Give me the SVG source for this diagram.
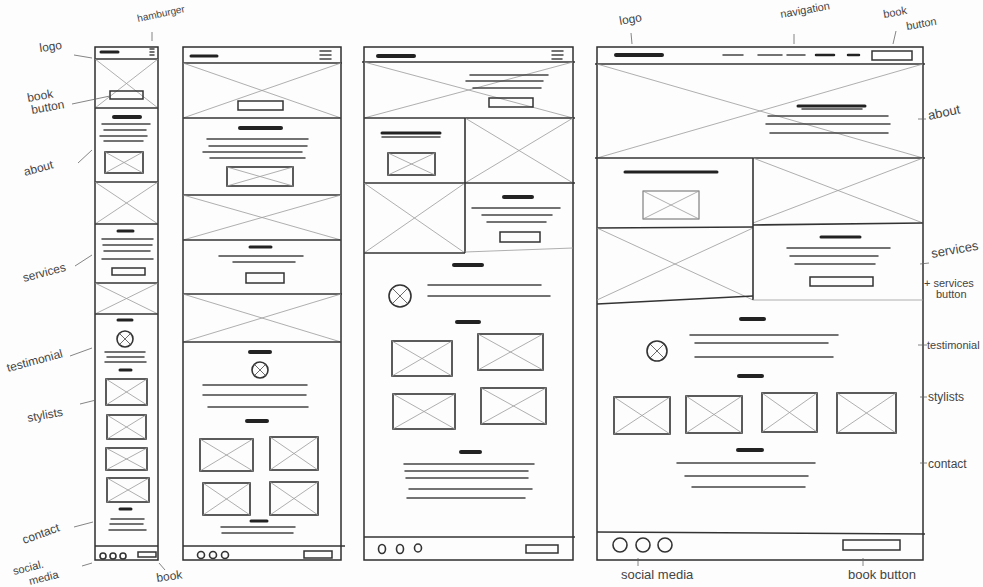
<svg xmlns="http://www.w3.org/2000/svg" width="983" height="587" viewBox="0 0 983 587">
<style>
.f{fill:none;stroke:#2e2e2e;stroke-width:1.5}
.s{fill:none;stroke:#333;stroke-width:1.6}
.x{fill:none;stroke:#9a9a9a;stroke-width:0.8}
.h{stroke:#222;stroke-width:4;stroke-linecap:round}
.t{stroke:#444;stroke-width:1.5;stroke-linecap:round}
.b{fill:none;stroke:#333;stroke-width:1.5}
.i{fill:none;stroke:#333;stroke-width:1.6}
.ld{stroke:#666;stroke-width:0.8}
.lab{font-family:"Liberation Sans",Arial,sans-serif;font-size:12px;fill:#444;font-weight:300}
</style>
<rect width="983" height="587" fill="#fdfdfd"/>

<g id="mobile">
<rect class="f" x="95" y="47" width="63" height="513"/>
<line class="h" x1="101" y1="52" x2="118" y2="52" style="stroke-width:3"/>
<line class="t" x1="150" y1="49" x2="154" y2="49"/><line class="t" x1="150" y1="52" x2="154" y2="52"/><line class="t" x1="150" y1="55" x2="154" y2="55"/>
<line class="s" x1="95" y1="59" x2="158" y2="59"/>
<path class="x" d="M95 59 L158 108 M158 59 L95 108"/>
<rect class="b" x="110" y="91" width="33" height="8"/>
<line class="s" x1="95" y1="108" x2="158" y2="108"/>
<line class="h" x1="114" y1="117" x2="140" y2="117"/>
<line class="t" x1="102" y1="124" x2="150" y2="124"/><line class="t" x1="104" y1="130" x2="146" y2="130"/><line class="t" x1="100" y1="136" x2="147" y2="136"/><line class="t" x1="104" y1="141" x2="143" y2="141"/>
<rect class="i" x="105" y="152" width="38" height="21"/><path class="x" d="M105 152 L143 173 M143 152 L105 173"/>
<line class="s" x1="95" y1="182" x2="158" y2="182"/>
<path class="x" d="M95 182 L158 224 M158 182 L95 224"/>
<line class="s" x1="95" y1="224" x2="158" y2="224"/>
<line class="h" x1="118" y1="231" x2="133" y2="231" style="stroke-width:3"/>
<line class="t" x1="102" y1="239" x2="153" y2="239"/><line class="t" x1="103" y1="245" x2="152" y2="245"/><line class="t" x1="104" y1="251" x2="150" y2="251"/><line class="t" x1="102" y1="259" x2="153" y2="259"/>
<rect class="b" x="112" y="268" width="33" height="7"/>
<line class="s" x1="95" y1="283" x2="158" y2="283"/>
<path class="x" d="M95 283 L158 314 M158 283 L95 314"/>
<line class="s" x1="95" y1="314" x2="158" y2="314"/>
<line class="h" x1="118" y1="320" x2="132" y2="320" style="stroke-width:3"/>
<circle class="i" cx="125" cy="339" r="8"/><path class="x" d="M119 333 L131 345 M131 333 L119 345" style="stroke:#444"/>
<line class="t" x1="105" y1="352" x2="145" y2="352"/><line class="t" x1="107" y1="357" x2="144" y2="357"/><line class="t" x1="105" y1="362" x2="146" y2="362"/>
<line class="h" x1="120" y1="370" x2="131" y2="370" style="stroke-width:3"/>
<rect class="i" x="106" y="379" width="41" height="26"/><path class="x" d="M106 379 L147 405 M147 379 L106 405"/>
<rect class="i" x="107" y="415" width="39" height="24"/><path class="x" d="M107 415 L146 439 M146 415 L107 439"/>
<rect class="i" x="106" y="448" width="41" height="22"/><path class="x" d="M106 448 L147 470 M147 448 L106 470"/>
<rect class="i" x="107" y="478" width="42" height="24"/><path class="x" d="M107 478 L149 502 M149 478 L107 502"/>
<line class="h" x1="120" y1="509" x2="131" y2="509" style="stroke-width:3"/>
<line class="t" x1="111" y1="519" x2="144" y2="519"/><line class="t" x1="110" y1="524" x2="143" y2="524"/><line class="t" x1="109" y1="530" x2="146" y2="530"/>
<line class="s" x1="95" y1="546" x2="158" y2="546"/>
<circle class="i" cx="103" cy="556" r="3"/><circle class="i" cx="113" cy="556" r="3"/><circle class="i" cx="123" cy="556" r="3"/>
<rect class="b" x="138" y="552" width="18" height="5"/>
</g>

<g id="tablet">
<rect class="f" x="183" y="47" width="158" height="513"/>
<line class="h" x1="191" y1="56" x2="217" y2="56" style="stroke-width:3"/>
<line class="t" x1="320" y1="51" x2="331" y2="51"/><line class="t" x1="320" y1="55" x2="331" y2="55"/><line class="t" x1="320" y1="59" x2="331" y2="59"/>
<line class="s" x1="183" y1="63" x2="342" y2="63"/>
<path class="x" d="M183 63 L341 118 M341 63 L183 118"/>
<rect class="b" x="238" y="101" width="45" height="9"/>
<line class="s" x1="183" y1="118" x2="341" y2="118"/>
<line class="h" x1="240" y1="128" x2="281" y2="128"/>
<line class="t" x1="207" y1="139" x2="308" y2="139"/><line class="t" x1="209" y1="146" x2="307" y2="146"/><line class="t" x1="203" y1="152" x2="302" y2="152"/><line class="t" x1="210" y1="158" x2="305" y2="158"/>
<rect class="i" x="227" y="167" width="66" height="19"/><path class="x" d="M227 167 L293 186 M293 167 L227 186"/>
<line class="s" x1="183" y1="195" x2="341" y2="195"/>
<path class="x" d="M183 195 L341 240 M341 195 L183 240"/>
<line class="s" x1="183" y1="240" x2="341" y2="240"/>
<line class="h" x1="250" y1="247" x2="271" y2="247" style="stroke-width:3"/>
<line class="t" x1="219" y1="256" x2="303" y2="256"/><line class="t" x1="233" y1="262" x2="295" y2="262"/>
<rect class="b" x="246" y="273" width="38" height="10"/>
<line class="s" x1="183" y1="294" x2="342" y2="294"/>
<path class="x" d="M183 294 L341 342 M341 294 L183 342"/>
<line class="s" x1="183" y1="342" x2="341" y2="342"/>
<line class="h" x1="250" y1="352" x2="270" y2="352"/>
<circle class="i" cx="260" cy="370" r="8"/><path class="x" d="M254 364 L266 376 M266 364 L254 376" style="stroke:#444"/>
<line class="t" x1="203" y1="385" x2="307" y2="385"/><line class="t" x1="203" y1="395" x2="306" y2="395"/><line class="t" x1="208" y1="407" x2="308" y2="407"/>
<line class="h" x1="247" y1="421" x2="267" y2="421"/>
<rect class="i" x="200" y="439" width="53" height="32"/><path class="x" d="M200 439 L253 471 M253 439 L200 471"/>
<rect class="i" x="270" y="437" width="48" height="33"/><path class="x" d="M270 437 L318 470 M318 437 L270 470"/>
<rect class="i" x="203" y="483" width="47" height="32"/><path class="x" d="M203 483 L250 515 M250 483 L203 515"/>
<rect class="i" x="270" y="482" width="48" height="33"/><path class="x" d="M270 482 L318 515 M318 482 L270 515"/>
<line class="h" x1="251" y1="521" x2="267" y2="521" style="stroke-width:3"/>
<line class="t" x1="221" y1="527" x2="295" y2="527"/><line class="t" x1="222" y1="533" x2="293" y2="533"/>
<line class="s" x1="183" y1="546" x2="345" y2="546"/>
<circle class="i" cx="201" cy="555" r="3.5"/><circle class="i" cx="213" cy="555" r="3.5"/><circle class="i" cx="225" cy="555" r="3.5"/>
<rect class="b" x="304" y="551" width="28" height="7"/>
</g>

<g id="laptop">
<rect class="f" x="364" y="47" width="209" height="513"/>
<line class="h" x1="378" y1="56" x2="414" y2="56"/>
<line class="t" x1="552" y1="51" x2="563" y2="51"/><line class="t" x1="552" y1="55" x2="563" y2="55"/><line class="t" x1="552" y1="59" x2="562" y2="59"/>
<line class="s" x1="362" y1="62" x2="575" y2="62"/>
<path class="x" d="M364 62 L573 118 M573 62 L364 118"/>
<line class="t" x1="470" y1="75" x2="548" y2="75"/><line class="t" x1="466" y1="81" x2="543" y2="81"/><line class="t" x1="473" y1="88" x2="541" y2="88"/>
<rect class="b" x="489" y="98" width="44" height="9"/>
<line class="s" x1="364" y1="118" x2="575" y2="118"/>
<line class="h" x1="382" y1="133" x2="440" y2="133" style="stroke-width:3"/><line class="t" x1="382" y1="137" x2="440" y2="137"/>
<rect class="i" x="388" y="153" width="47" height="22"/><path class="x" d="M388 153 L435 175 M435 153 L388 175"/>
<path class="x" d="M465 118 L573 183 M573 118 L465 183"/>
<line class="s" x1="364" y1="183" x2="575" y2="183"/>
<path class="x" d="M364 183 L465 253 M465 183 L364 253"/>
<line class="s" x1="465" y1="118" x2="465" y2="253"/>
<line class="s" x1="364" y1="253" x2="465" y2="253"/>
<line class="x" x1="465" y1="252" x2="573" y2="248"/>
<line class="h" x1="504" y1="197" x2="532" y2="197"/>
<line class="t" x1="472" y1="208" x2="560" y2="208"/><line class="t" x1="482" y1="215" x2="552" y2="215"/><line class="t" x1="487" y1="222" x2="546" y2="222"/>
<rect class="b" x="500" y="232" width="40" height="10"/>
<line class="h" x1="454" y1="265" x2="482" y2="265"/>
<circle class="i" cx="400" cy="296" r="11"/><path class="x" d="M393 289 L407 303 M407 289 L393 303" style="stroke:#444"/>
<line class="t" x1="428" y1="285" x2="541" y2="285"/><line class="t" x1="428" y1="296" x2="550" y2="296"/>
<line class="h" x1="457" y1="322" x2="479" y2="322"/>
<rect class="i" x="392" y="341" width="60" height="35"/><path class="x" d="M392 341 L452 376 M452 341 L392 376"/>
<rect class="i" x="478" y="334" width="65" height="36"/><path class="x" d="M478 334 L543 370 M543 334 L478 370"/>
<rect class="i" x="393" y="394" width="62" height="35"/><path class="x" d="M393 394 L455 429 M455 394 L393 429"/>
<rect class="i" x="481" y="388" width="65" height="36"/><path class="x" d="M481 388 L546 424 M546 388 L481 424"/>
<line class="h" x1="461" y1="452" x2="480" y2="452"/>
<line class="t" x1="404" y1="464" x2="534" y2="464"/><line class="t" x1="405" y1="471" x2="528" y2="471"/><line class="t" x1="406" y1="478" x2="528" y2="478"/><line class="t" x1="409" y1="489" x2="532" y2="489"/><line class="t" x1="407" y1="498" x2="525" y2="498"/>
<line class="s" x1="364" y1="537" x2="575" y2="537"/>
<ellipse class="i" cx="382" cy="549" rx="3.5" ry="4.5"/><ellipse class="i" cx="400" cy="549" rx="3.5" ry="4.5"/><ellipse class="i" cx="418" cy="548" rx="3.5" ry="4"/>
<rect class="b" x="526" y="545" width="32" height="8"/>
</g>

<g id="desktop">
<rect class="f" x="597" y="47" width="326" height="513"/>
<line class="h" x1="616" y1="55" x2="662" y2="55"/>
<line class="t" x1="723" y1="55" x2="743" y2="55"/><line class="t" x1="758" y1="55" x2="782" y2="55"/><line class="t" x1="787" y1="55" x2="805" y2="55"/><line class="h" x1="816" y1="55" x2="834" y2="55" style="stroke-width:2.5"/><line class="h" x1="848" y1="55" x2="859" y2="55" style="stroke-width:2.5"/>
<rect class="b" x="872" y="51" width="40" height="9"/>
<line class="s" x1="595" y1="64" x2="925" y2="64"/>
<path class="x" d="M597 64 L923 158 M923 64 L597 158"/>
<line class="h" x1="798" y1="106" x2="865" y2="106" style="stroke-width:3"/><line class="t" x1="802" y1="109" x2="862" y2="109"/>
<line class="t" x1="768" y1="116" x2="888" y2="116"/><line class="t" x1="766" y1="124" x2="890" y2="124"/><line class="t" x1="770" y1="133" x2="888" y2="133"/>
<line class="s" x1="595" y1="158" x2="925" y2="158"/>
<line class="h" x1="625" y1="172" x2="717" y2="172" style="stroke-width:3"/>
<rect class="i" x="643" y="191" width="56" height="28" style="stroke:#666;stroke-width:1"/><path class="x" d="M643 191 L699 219 M699 191 L643 219"/>
<path class="x" d="M753 158 L923 223 M923 158 L753 223"/>
<line class="s" x1="597" y1="228" x2="753" y2="227"/>
<line class="s" x1="753" y1="225" x2="923" y2="223"/>
<path class="x" d="M597 228 L753 300 M753 228 L597 300"/>
<line class="s" x1="753" y1="158" x2="753" y2="300"/>
<line class="s" x1="597" y1="304" x2="753" y2="296"/>
<line class="x" x1="753" y1="300" x2="923" y2="300"/>
<line class="h" x1="821" y1="237" x2="860" y2="237" style="stroke-width:3"/>
<line class="t" x1="787" y1="248" x2="890" y2="248"/><line class="t" x1="790" y1="256" x2="878" y2="256"/><line class="t" x1="795" y1="264" x2="875" y2="264"/>
<rect class="b" x="810" y="277" width="63" height="9"/>
<line class="h" x1="741" y1="319" x2="764" y2="319"/>
<circle class="i" cx="657" cy="351" r="10"/><path class="x" d="M650 344 L664 358 M664 344 L650 358" style="stroke:#444"/>
<line class="t" x1="690" y1="335" x2="838" y2="335"/><line class="t" x1="695" y1="343" x2="828" y2="343"/><line class="t" x1="695" y1="357" x2="833" y2="357"/>
<line class="h" x1="739" y1="376" x2="762" y2="376"/>
<rect class="i" x="614" y="397" width="56" height="37"/><path class="x" d="M614 397 L670 434 M670 397 L614 434"/>
<rect class="i" x="686" y="396" width="56" height="37"/><path class="x" d="M686 396 L742 433 M742 396 L686 433"/>
<rect class="i" x="762" y="393" width="55" height="39"/><path class="x" d="M762 393 L817 432 M817 393 L762 432"/>
<rect class="i" x="837" y="393" width="59" height="40"/><path class="x" d="M837 393 L896 433 M896 393 L837 433"/>
<line class="h" x1="738" y1="450" x2="762" y2="450"/>
<line class="t" x1="677" y1="463" x2="815" y2="463"/><line class="t" x1="685" y1="476" x2="808" y2="476"/><line class="t" x1="692" y1="487" x2="805" y2="487"/>
<line class="s" x1="597" y1="532" x2="925" y2="534"/>
<circle class="i" cx="620" cy="545" r="7"/><circle class="i" cx="643" cy="545" r="7"/><circle class="i" cx="665" cy="545" r="7"/>
<rect class="b" x="843" y="540" width="57" height="10"/>
</g>

<g id="labels">
<line class="ld" x1="74" y1="55" x2="92" y2="58"/>
<text class="lab" x="40" y="52" transform="rotate(-8 40 52)">logo</text>
<line class="ld" x1="152" y1="32" x2="152" y2="41"/>
<text class="lab" x="138" y="22" transform="rotate(-12 138 22)" style="font-size:10px">hamburger</text>
<line class="ld" x1="72" y1="104" x2="110" y2="96"/>
<text class="lab" x="28" y="102" transform="rotate(-10 28 102)">book</text>
<text class="lab" x="32" y="114" transform="rotate(-10 32 114)">button</text>
<line class="ld" x1="78" y1="163" x2="92" y2="150"/>
<text class="lab" x="25" y="176" transform="rotate(-15 25 176)">about</text>
<line class="ld" x1="75" y1="266" x2="92" y2="255"/>
<text class="lab" x="24" y="282" transform="rotate(-15 24 282)">services</text>
<line class="ld" x1="70" y1="356" x2="92" y2="348"/>
<text class="lab" x="8" y="372" transform="rotate(-15 8 372)">testimonial</text>
<line class="ld" x1="80" y1="404" x2="96" y2="400"/>
<text class="lab" x="28" y="422" transform="rotate(-10 28 422)">stylists</text>
<line class="ld" x1="74" y1="527" x2="93" y2="522"/>
<text class="lab" x="24" y="544" transform="rotate(-20 24 544)">contact</text>
<line class="ld" x1="82" y1="566" x2="92" y2="563"/>
<text class="lab" x="14" y="575" transform="rotate(-14 14 575)" style="font-size:11px">social.</text>
<text class="lab" x="30" y="585" transform="rotate(-14 30 585)" style="font-size:11px">media</text>
<line class="ld" x1="159" y1="563" x2="165" y2="570"/>
<text class="lab" x="157" y="582" transform="rotate(-8 157 582)">book</text>

<line class="ld" x1="631" y1="33" x2="632" y2="44"/>
<text class="lab" x="620" y="25" transform="rotate(-10 620 25)">logo</text>
<line class="ld" x1="794" y1="34" x2="794" y2="44"/>
<text class="lab" x="781" y="18" transform="rotate(-10 781 18)" style="font-size:11px">navigation</text>
<line class="ld" x1="896" y1="31" x2="893" y2="44"/>
<text class="lab" x="884" y="18" transform="rotate(-10 884 18)" style="font-size:11px">book</text>
<text class="lab" x="907" y="30" transform="rotate(-10 907 30)" style="font-size:11px">button</text>
<line class="ld" x1="918" y1="119" x2="926" y2="119"/>
<text class="lab" x="929" y="120" transform="rotate(-12 929 120)" style="font-size:13px">about</text>
<line class="ld" x1="920" y1="264" x2="929" y2="263"/>
<text class="lab" x="932" y="258" transform="rotate(-10 932 258)" style="font-size:13px">services</text>
<text class="lab" x="924" y="287" style="font-size:11px">+ services</text>
<text class="lab" x="936" y="298" style="font-size:11px">button</text>
<line class="ld" x1="918" y1="345" x2="927" y2="345"/>
<text class="lab" x="927" y="349" style="font-size:11px">testimonial</text>
<line class="ld" x1="920" y1="397" x2="927" y2="397"/>
<text class="lab" x="928" y="401" style="font-size:12px">stylists</text>
<line class="ld" x1="920" y1="463" x2="927" y2="463"/>
<text class="lab" x="928" y="468" style="font-size:12px">contact</text>
<line class="ld" x1="638" y1="558" x2="638" y2="566"/>
<text class="lab" x="621" y="579" style="font-size:13px">social media</text>
<line class="ld" x1="863" y1="558" x2="863" y2="566"/>
<text class="lab" x="848" y="579" style="font-size:13px">book button</text>
</g>
</svg>
